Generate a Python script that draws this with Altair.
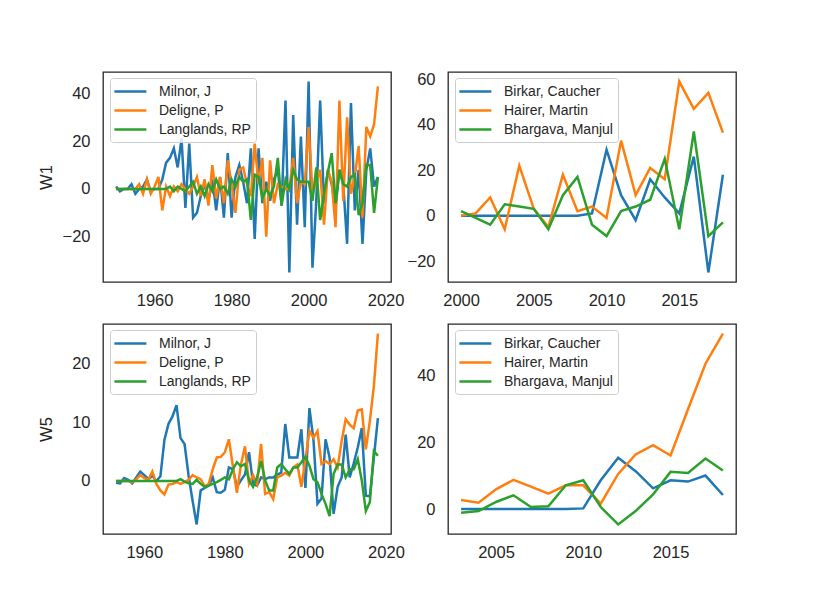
import altair as alt
import pandas as pd

FONT = "Liberation Sans"
INK = "#262626"
COLORS = ["#1f77b4", "#ff7f0e", "#2ca02c"]

left_names = ["Milnor, J", "Deligne, P", "Langlands, RP"]
right_names = ["Birkar, Caucher", "Hairer, Martin", "Bhargava, Manjul"]

years_w1_left = list(range(1950, 2019))
years_w5_left = list(range(1953, 2019))
years_w1_right = list(range(2000, 2019))
years_w5_right = list(range(2003, 2019))

# ---- W1, left panel (1950-2018) ----
milnor_w1 = [1, -1, 0, 0, 2, -2, 0, 1, 4, -1,
             0, 0, 4, 11, 13, 17, 9, 21, -8, 19,
             -12, -10, -3, 2, -5, 4, -9, 5, -12, 15,
             -12, 5, 10, 3, -6, 17, -21, 17, -6, 3,
             -5, 4, 8, -7, 37, -35, 31, -15, 22, -16,
             45, -33, -5, 37, -6, 8, 2, -8, 8, 2,
             -23, 36, -9, 8, -23, 8, 17, 1, 5]
deligne_w1 = [0, 0, 0, 0, 0, 0, 2, -2, 4, -2,
              1, 5, -9, 1, -3, 1, -1, 2, 0, -2,
              1, 5, -3, 4, -7, 10, -4, 5, -6, 12,
              2, -10, 8, 9, 2, -3, 19, 2, 13, -20,
              12, -6, 2, 1, 0, 0, 13, -6, 3, 2,
              26, -1, 3, 8, -15, 8, 3, -16, 37, -5,
              30, -2, 5, 18, -12, 26, 22, 27, 43]
langlands_w1 = [0, 0, 0, 0, 0, 0, 0, 0, 0, 0,
                0, 0, 0, 0, 1, -1, 1, 0, -1, 1,
                3, -2, 1, -3, 2, -1, 4, 0, 1, -2,
                4, 1, 5, 3, 4, -13, 6, 5, -4, 0,
                -3, 1, 13, -7, 4, 0, 8, 4, 3, 3,
                3, -5, 9, -13, -2, 7, 15, -6, 8, 2,
                1, 5, 6, -11, -6, 10, 10, -10, 5]

# ---- W1, right panel (2000-2018) ----
birkar_w1 = [0, 0, 0, 0, 0, 0, 0, 0, 0, 1, 29, 9, -2, 16, 8, 1, 26, -25, 18]
hairer_w1 = [0, 1, 8, -6, 22, 3, -5, 18, 2, 4, -1, 33, 9, 21, 16, 59, 47, 54, 36.5]
bhargava_w1 = [2, -1, -4, 5, 4, 3, -6, 9, 17, -4, -9, 2, 4, 7, 25, -6, 37, -9, -3]

# ---- W5, left panel (1953-2018) ----
milnor_w5 = [-0.3, -0.4, 0.5, 0.2, -0.4, 0.6, 1.6, 1.0, 0.3, 0.9,
             0.0, 0.8, 7.0, 9.7, 11.0, 12.9, 7.3, 6.3, 0.9, -3.4,
             -7.4, -1.6, -1.2, -0.8, 0.6, -1.9, -2.0, -1.5, 2.3, 2.0,
             -1.0, 0.1, 1.1, 4.9, -0.5, -0.8, 0.6, 0.3, 0.6, 0.6,
             1.1, 1.4, 9.7, 4.0, 4.0, 4.0, 8.8, -1.2, 12.4, 7.0,
             -3.9, -3.0, 7.1, 4.0, -5.6, -1.0, 0.6, 7.9, 0.6, 3.0,
             5.7, 9.0, -2.5, -2.6, 4.0, 10.7]
deligne_w5 = [0, 0, 0, 0, -0.2, 0.3, 1.0, 0.5, 0.2, 1.6,
              -0.5, -1.6, -2.3, -0.6, -0.5, -0.2, -0.5, -0.2, 0.2, 1.0,
              0.6, 0.3, -0.9, -0.5, 2.0, 4.0, 4.1, 4.9, 7.1, 2.5,
              -2.0, 2.8, 5.9, -0.5, 1.0, -0.5, 6.3, -2.2, -1.9, -3.1,
              0.6, 0.9, 1.4, 0.9, 2.3, 2.8, -1.0, 3.7, 8.5, 7.4,
              8.5, 2.9, 3.4, 2.9, 3.7, 2.3, 6.8, 10.5, 9.6, 9.0,
              12.0, 12.2, 5.4, 10.2, 16.2, 25.1]
langlands_w5 = [0, 0, 0, 0, 0, 0, 0, 0, 0, 0,
                0, 0, 0, 0, 0, 0, 0.3, -0.1, -0.4, -0.5,
                0.2, -0.5, -1.0, -0.8, -0.5, -0.2, 0.2, 0.6, 0.3, 2.0,
                3.2, 2.5, 2.9, 0.1, -1.0, 0.6, 3.4, 0.1, -1.6, -1.6,
                2.3, 2.9, 2.0, 1.2, 2.3, 2.3, 3.2, 4.1, 2.6, 0.3,
                -0.2, -2.2, -3.9, -6.0, 1.2, 2.8, 2.8, 0.6, 2.0, 2.0,
                3.7, 0.1, -5.1, -3.6, 5.1, 4.3]

# ---- W5, right panel (2003-2018) ----
birkar_w5 = [0, 0, 0, 0, 0, 0, 0, 0.2, 8.6, 15.3, 11.3, 6.2, 8.6, 8.2, 10.0, 4.2]
hairer_w5 = [2.7, 1.9, 5.9, 8.7, 6.7, 4.6, 7.1, 7.1, 1.6, 10.5, 16.3, 19.1, 16.0, 29.8, 43.4, 52.4]
bhargava_w5 = [-1.1, -0.6, 2.1, 4.1, 0.6, 0.8, 7.1, 8.6, 0.6, -4.6, -0.6, 4.4, 11.1, 10.8, 15.1, 11.5]

xticks_left = [1960, 1980, 2000, 2020]
xticks_tr = [2000, 2005, 2010, 2015]
xticks_br = [2005, 2010, 2015]
yticks_tl = [-20, 0, 20, 40]
yticks_tr = [-20, 0, 20, 40, 60]
yticks_bl = [0, 10, 20]
yticks_br = [0, 20, 40]


def to_frame(years, series, names):
    rows = []
    for name, vals in zip(names, series):
        for yr, v in zip(years, vals):
            rows.append({"year": yr, "value": v, "author": name})
    return pd.DataFrame(rows)


def span(vals, m=0.05):
    lo, hi = min(vals), max(vals)
    pad = (hi - lo) * m
    return [lo - pad, hi + pad]


def panel(years, series, names, xticks, yticks, ytitle=None):
    df = to_frame(years, series, names)
    allv = [v for s in series for v in s]
    yaxis_kw = dict(values=yticks, format="d", labelPadding=13)
    if ytitle:
        yaxis_kw.update(title=ytitle, titleX=-52, titleBaseline="alphabetic")
    else:
        yaxis_kw.update(title=None)
    legend = alt.Legend(
        title=None,
        orient="none",
        legendX=7,
        legendY=6,
        symbolType="M-1.3,0H3.27",
        symbolSize=196,
        symbolStrokeWidth=2.5,
        labelFontSize=14,
        labelFont=FONT,
        labelColor=INK,
        labelOffset=27,
        padding=5,
        rowPadding=3,
        fillColor="rgba(255,255,255,0.8)",
        strokeColor="#cccccc",
        cornerRadius=3,
    )
    return (
        alt.Chart(df)
        .mark_line(strokeWidth=2.5)
        .encode(
            x=alt.X(
                "year:Q",
                scale=alt.Scale(domain=span(years), nice=False, zero=False),
                axis=alt.Axis(values=xticks, format="d", title=None, labelPadding=10, labelFlush=False),
            ),
            y=alt.Y(
                "value:Q",
                scale=alt.Scale(domain=span(allv), nice=False, zero=False),
                axis=alt.Axis(**yaxis_kw),
            ),
            color=alt.Color(
                "author:N",
                scale=alt.Scale(domain=names, range=COLORS),
                legend=legend,
            ),
        )
        .properties(width=288, height=210)
    )


tl = panel(years_w1_left, [milnor_w1, deligne_w1, langlands_w1], left_names, xticks_left, yticks_tl, "W1")
tr = panel(years_w1_right, [birkar_w1, hairer_w1, bhargava_w1], right_names, xticks_tr, yticks_tr)
bl = panel(years_w5_left, [milnor_w5, deligne_w5, langlands_w5], left_names, xticks_left, yticks_bl, "W5")
br = panel(years_w5_right, [birkar_w5, hairer_w5, bhargava_w5], right_names, xticks_br, yticks_br)

chart = (
    alt.concat(tl, tr, bl, br, columns=2, spacing={"row": 42, "column": 57}, bounds="flush")
    .resolve_scale(x="independent", y="independent", color="independent")
    .resolve_legend(color="independent")
    .configure(font=FONT, padding={"left": 29, "top": 62, "right": 5, "bottom": 5})
    .configure_view(stroke=INK, strokeWidth=1.3)
    .configure_axis(
        grid=False,
        ticks=False,
        domain=False,
        labelFont=FONT,
        labelFontSize=16.5,
        labelColor=INK,
        titleFont=FONT,
        titleFontSize=16.5,
        titleFontWeight="normal",
        titleColor=INK,
    )
)

chart.save("out.html", embed_options={"renderer": "svg", "actions": False})
